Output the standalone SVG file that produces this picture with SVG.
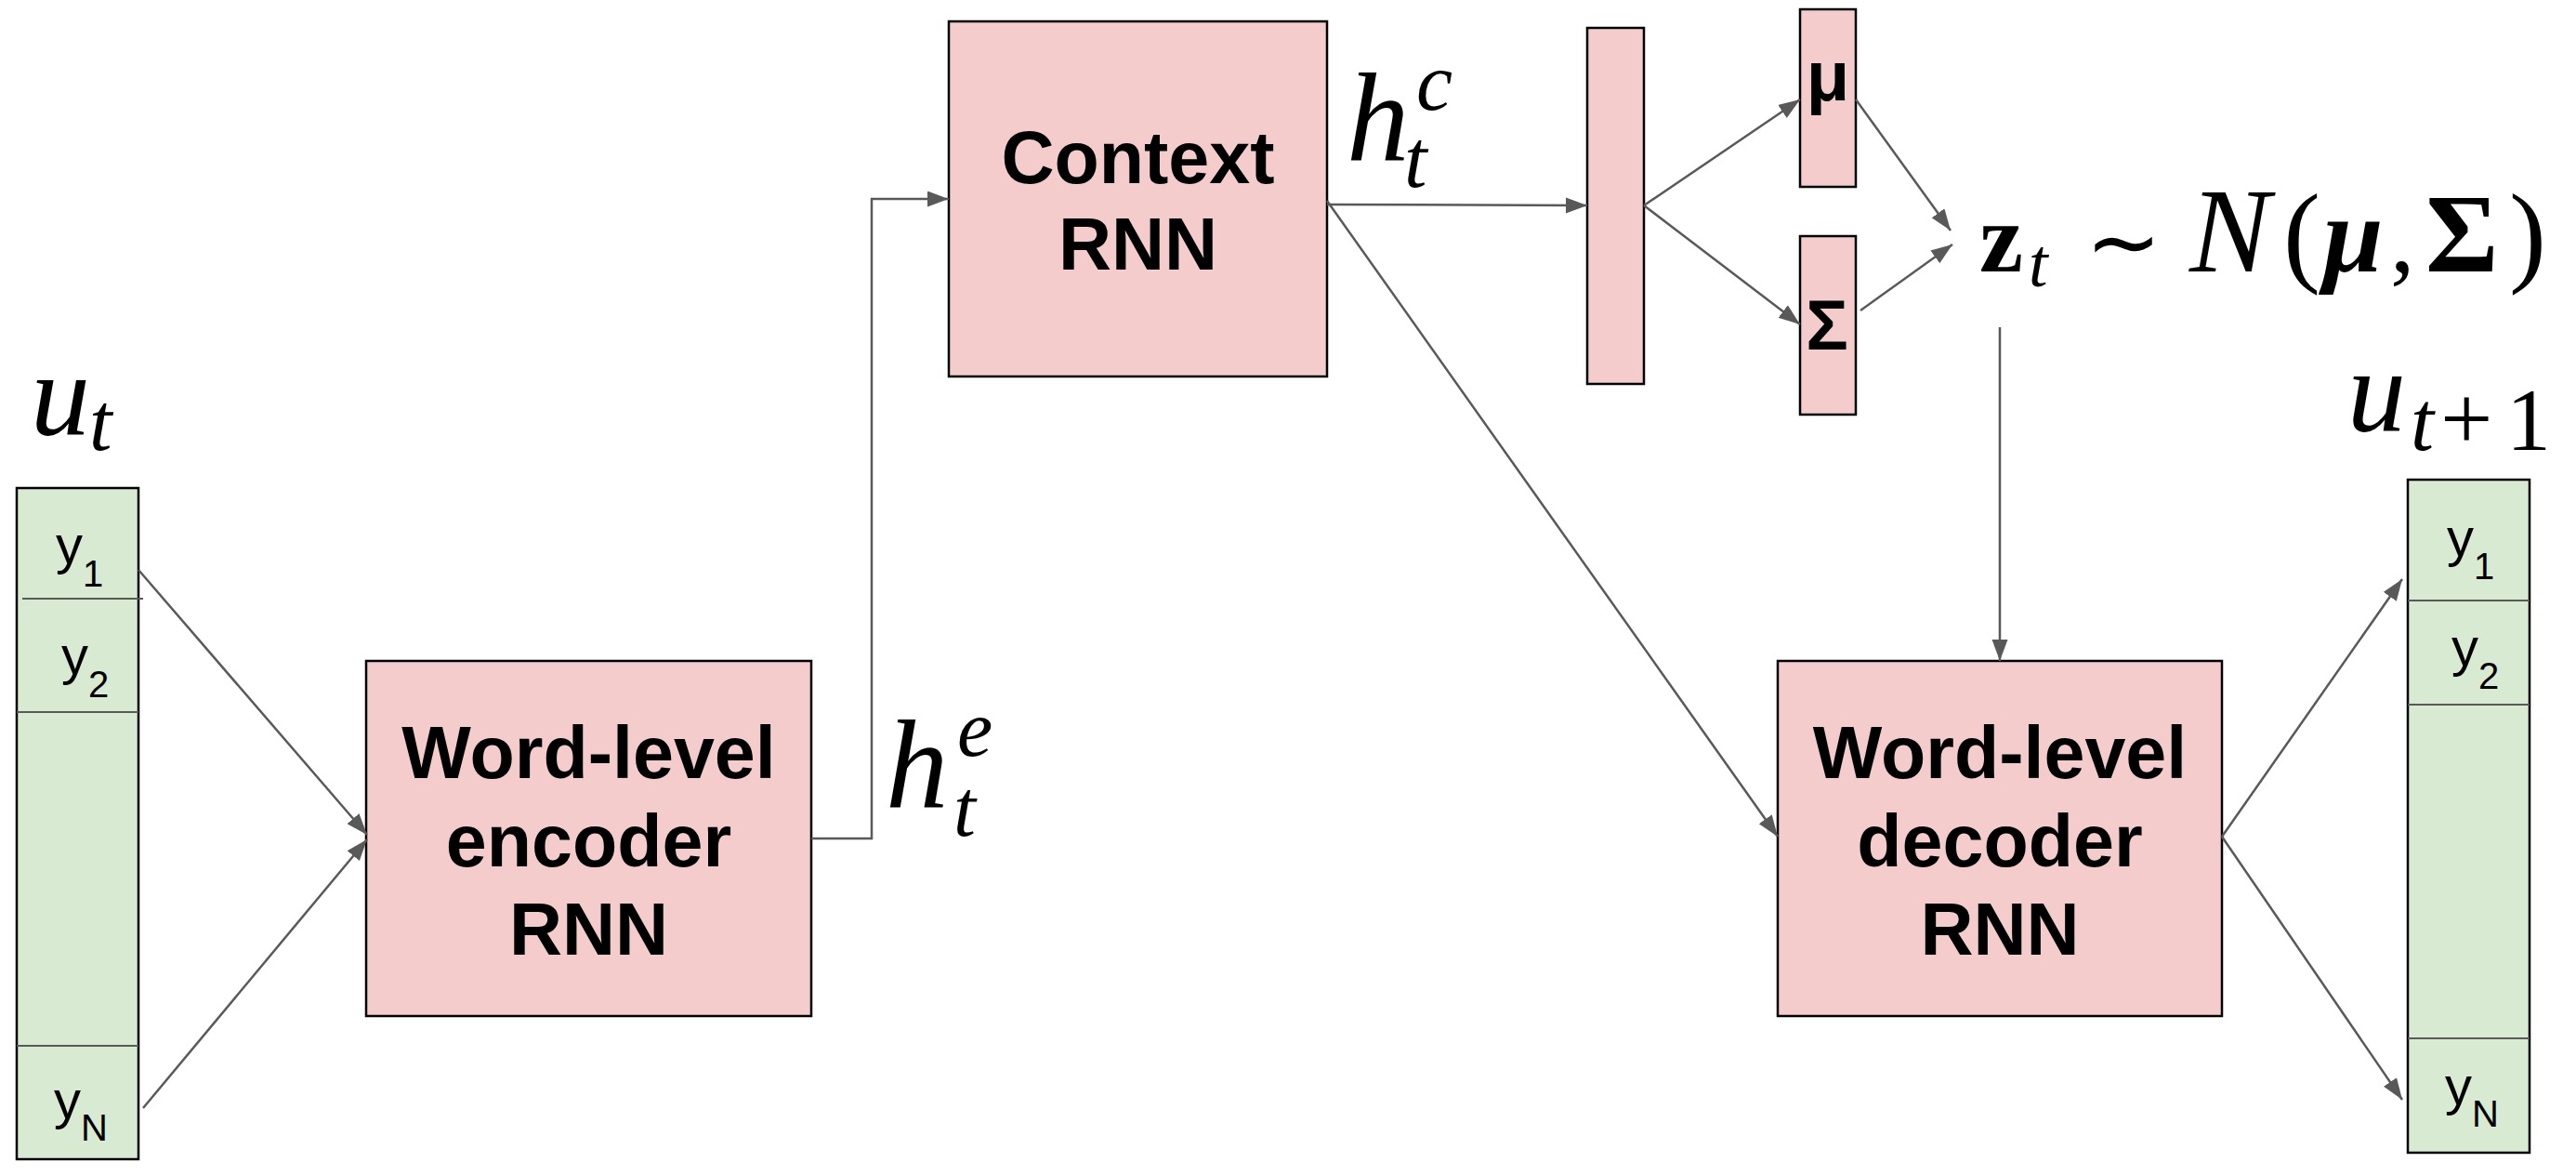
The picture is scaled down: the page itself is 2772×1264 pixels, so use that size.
<svg xmlns="http://www.w3.org/2000/svg" width="2772" height="1264" viewBox="0 0 2772 1264">
<defs>
<marker id="ah" markerUnits="userSpaceOnUse" markerWidth="24" markerHeight="18" refX="23" refY="8.5" orient="auto">
<path d="M0,0 L23,8.5 L0,17 z" fill="#595959"/>
</marker>
<style>
.pink{fill:#f4cccc;stroke:#000;stroke-width:2.5}
.green{fill:#d9ead3;stroke:#000;stroke-width:2.5}
.div{stroke:#595959;stroke-width:2.2;fill:none}
.lbl{font-family:"Liberation Sans",Arial,sans-serif;font-weight:bold;font-size:79px;fill:#000;text-anchor:middle}
.sym{font-family:"Liberation Sans",Arial,sans-serif;font-weight:bold;font-size:76px;fill:#000;text-anchor:middle}
.y{font-family:"Liberation Sans",Arial,sans-serif;font-size:58px;fill:#000}
.sub{font-size:40px}
.m{font-family:"Liberation Serif","Times New Roman",serif;font-style:italic;fill:#000}
.mr{font-family:"Liberation Serif","Times New Roman",serif;fill:#000}
.conn line,.conn polyline{stroke:#595959;stroke-width:2.5;fill:none;marker-end:url(#ah)}
</style>
</defs>
<rect width="2772" height="1264" fill="#fff"/>

<g id="u_t">
<text class="m" font-size="128"><tspan x="33" y="468">u</tspan><tspan x="96" y="484" font-size="88">t</tspan></text>
<rect class="green" x="18" y="525" width="131" height="722"/>
<line class="div" x1="24" y1="644" x2="154" y2="644"/>
<line class="div" x1="18" y1="766" x2="149" y2="766"/>
<line class="div" x1="18" y1="1125" x2="149" y2="1125"/>
<text class="y" x="60" y="606">y<tspan class="sub" dy="25">1</tspan></text>
<text class="y" x="66" y="725">y<tspan class="sub" dy="25">2</tspan></text>
<text class="y" x="58" y="1203">y<tspan class="sub" dy="24">N</tspan></text>
</g>

<g id="encoder">
<rect class="pink" x="394" y="711" width="479" height="382"/>
<text class="lbl" x="633.5" y="837">Word-level</text>
<text class="lbl" x="633.5" y="932">encoder</text>
<text class="lbl" x="633.5" y="1027">RNN</text>
</g>

<g id="h_e">
<text class="m" font-size="135"><tspan x="953" y="868">h</tspan><tspan x="1030" y="813" font-size="86">e</tspan><tspan x="1026" y="899" font-size="86">t</tspan></text>
</g>

<g id="context">
<rect class="pink" x="1021" y="23" width="407" height="382"/>
<text class="lbl" x="1224.5" y="197">Context</text>
<text class="lbl" x="1224.5" y="290">RNN</text>
</g>

<g id="h_c">
<text class="m" font-size="135"><tspan x="1449" y="172">h</tspan><tspan x="1524" y="118" font-size="88">c</tspan><tspan x="1511" y="201" font-size="88">t</tspan></text>
</g>

<g id="hidden">
<rect class="pink" x="1708" y="30" width="61" height="383"/>
</g>

<g id="mu">
<rect class="pink" x="1937" y="10" width="60" height="191"/>
<text class="sym" x="1967" y="108">μ</text>
</g>

<g id="sigma">
<rect class="pink" x="1937" y="254" width="60" height="192"/>
<text class="sym" x="1966" y="376">Σ</text>
</g>

<g id="z_t">
<text class="mr" y="292" font-size="106"><tspan x="2130" font-weight="bold">z</tspan><tspan x="2183" y="308" font-size="74" font-style="italic">t</tspan><tspan x="2244" y="294" font-family="DejaVu Sans" font-size="98">∼</tspan><tspan x="2356" y="292" font-size="130" font-style="italic">N</tspan><tspan x="2457" font-size="120">(</tspan><tspan x="2500" font-size="116" font-weight="bold" font-style="italic">μ</tspan><tspan x="2572">,</tspan><tspan x="2610" font-size="120" font-weight="bold">Σ</tspan><tspan x="2700" font-size="120">)</tspan></text>
</g>

<g id="decoder">
<rect class="pink" x="1913" y="711" width="478" height="382"/>
<text class="lbl" x="2152" y="837">Word-level</text>
<text class="lbl" x="2152" y="932">decoder</text>
<text class="lbl" x="2152" y="1027">RNN</text>
</g>

<g id="u_t1">
<text class="m" font-size="126"><tspan x="2526" y="464">u</tspan><tspan x="2594" y="484" font-size="90">t</tspan><tspan x="2626" y="484" font-size="100" font-style="normal">+</tspan><tspan x="2697" y="484" font-size="96" font-style="normal">1</tspan></text>
<rect class="green" x="2591" y="516" width="131" height="724"/>
<line class="div" x1="2591" y1="646" x2="2722" y2="646"/>
<line class="div" x1="2591" y1="758" x2="2722" y2="758"/>
<line class="div" x1="2591" y1="1117" x2="2722" y2="1117"/>
<text class="y" x="2633" y="598">y<tspan class="sub" dy="25">1</tspan></text>
<text class="y" x="2638" y="716">y<tspan class="sub" dy="25">2</tspan></text>
<text class="y" x="2631" y="1188">y<tspan class="sub" dy="24">N</tspan></text>
</g>

<g id="connectors" class="conn">
<line x1="149" y1="613" x2="395" y2="898"/>
<line x1="154" y1="1192" x2="395" y2="903"/>
<polyline points="873,902 938,902 938,214 1021,214"/>
<line x1="1428" y1="220" x2="1708" y2="221"/>
<line x1="1428" y1="216" x2="1913" y2="900"/>
<line x1="1769" y1="221" x2="1937" y2="107"/>
<line x1="1769" y1="221" x2="1937" y2="349"/>
<line x1="1997" y1="107" x2="2099" y2="248"/>
<line x1="2002" y1="334" x2="2101" y2="263"/>
<line x1="2152" y1="352" x2="2152" y2="711"/>
<line x1="2391" y1="900" x2="2585" y2="623"/>
<line x1="2391" y1="900" x2="2585" y2="1183"/>
</g>
</svg>
